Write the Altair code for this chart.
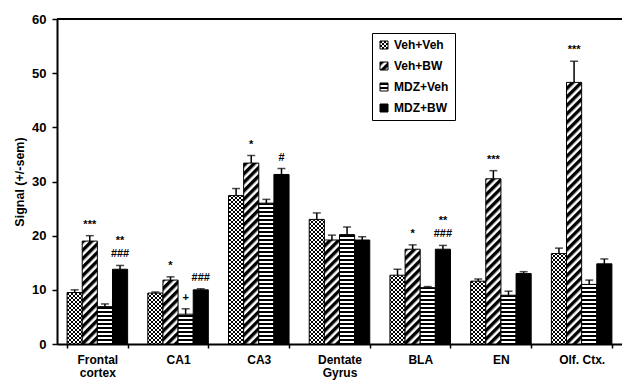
import altair as alt
import pandas as pd

# ---------------- data ----------------
regions = ["Frontal cortex", "CA1", "CA3", "Dentate Gyrus", "BLA", "EN", "Olf. Ctx."]
groups = ["Veh+Veh", "Veh+BW", "MDZ+Veh", "MDZ+BW"]

veh_veh = [9.5, 9.4, 27.4, 23.0, 12.7, 11.6, 16.7]
veh_veh_err = [0.5, 0.2, 1.3, 1.2, 1.1, 0.4, 1.0]
veh_bw = [19.0, 11.8, 33.4, 19.2, 17.5, 30.5, 48.3]
veh_bw_err = [1.0, 0.6, 1.4, 0.9, 0.8, 1.5, 3.9]
mdz_veh = [6.9, 5.5, 26.0, 20.2, 10.4, 9.0, 11.0]
mdz_veh_err = [0.5, 1.0, 0.7, 1.4, 0.2, 0.75, 0.8]
mdz_bw = [13.8, 10.0, 31.3, 19.2, 17.5, 13.0, 14.8]
mdz_bw_err = [0.7, 0.2, 1.1, 0.6, 0.7, 0.35, 0.9]

# significance marks: first line (just above the error bar) and second line (above that)
veh_veh_sig = ["", "", "", "", "", "", ""]
veh_bw_sig = ["***", "*", "*", "", "*", "***", "***"]
mdz_veh_sig = ["", "+", "", "", "", "", ""]
mdz_bw_sig = ["###", "###", "#", "", "###", "", ""]
mdz_bw_sig2 = ["**", "", "", "", "**", "", ""]

y_ticks = [0, 10, 20, 30, 40, 50, 60]

# ---------------- patterns (svg defs injected into page) ----------------
patterns = ["url(#pChk)", "url(#pDiag)", "url(#pHor)", "black"]
DEFS = """
<svg width="0" height="0" style="position:absolute;left:0;top:0">
<defs>
<pattern id="pChk" patternUnits="userSpaceOnUse" width="4" height="4">
<rect width="4" height="4" fill="white"/>
<rect x="0" y="0" width="2" height="2" fill="black"/>
<rect x="2" y="2" width="2" height="2" fill="black"/>
</pattern>
<pattern id="pDiag" patternUnits="userSpaceOnUse" width="6" height="6" patternTransform="rotate(45)">
<rect width="6" height="6" fill="white"/>
<rect width="3.4" height="6" fill="black"/>
</pattern>
<pattern id="pHor" patternUnits="userSpaceOnUse" width="4" height="4">
<rect width="4" height="4" fill="white"/>
<rect width="4" height="2" fill="black"/>
</pattern>
</defs>
</svg>
"""

try:
    import altair.utils.html as _h
    _orig = _h.TEMPLATES["standard"]

    class _PatternTemplate:
        def render(self, **kw):
            html = _orig.render(**kw)
            if "<body>" in html:
                return html.replace("<body>", "<body>\n" + DEFS, 1)
            return DEFS + html

    _h.TEMPLATES["standard"] = _PatternTemplate()
except Exception:
    pass

# ---------------- frames ----------------
rows = []
series = [(veh_veh, veh_veh_err, veh_veh_sig, None),
          (veh_bw, veh_bw_err, veh_bw_sig, None),
          (mdz_veh, mdz_veh_err, mdz_veh_sig, None),
          (mdz_bw, mdz_bw_err, mdz_bw_sig, mdz_bw_sig2)]
for g, (vals, errs, sigs, sigs2) in zip(groups, series):
    for i, r in enumerate(regions):
        rows.append({"region": r, "group": g, "value": vals[i], "top": vals[i] + errs[i],
                     "sig": sigs[i], "sig2": sigs2[i] if sigs2 else ""})
df = pd.DataFrame(rows)
df_sig = df[df["sig"] != ""]
df_sig2 = df[df["sig2"] != ""]

FONT = "Liberation Sans"
W, H = 565, 325

xscale = alt.Scale(domain=regions, paddingInner=0.25, paddingOuter=0.125)
xaxis = alt.Axis(
    title=None, labelAngle=0, tickBand="extent", tickSize=4, tickWidth=1.5,
    labelPadding=6, labelFontSize=12, labelLineHeight=13,
    labelExpr="datum.label == 'Frontal cortex' ? ['Frontal','cortex'] : "
              "datum.label == 'Dentate Gyrus' ? ['Dentate','Gyrus'] : datum.label",
)
X = alt.X("region:N", sort=regions, scale=xscale, axis=xaxis)
XO = alt.XOffset("group:N", sort=groups, scale=alt.Scale(domain=groups, paddingInner=0, paddingOuter=0))
yscale = alt.Scale(domain=[0, 60], nice=False)
yaxis = alt.Axis(values=y_ticks, title="Signal (+/-sem)", tickSize=5, tickWidth=1.5,
                 labelPadding=6, titlePadding=5, titleFontSize=12.5, labelFontSize=13)

bars = alt.Chart(df).mark_bar(stroke="black", strokeWidth=1).encode(
    x=X, xOffset=XO,
    y=alt.Y("value:Q", scale=yscale, axis=yaxis),
    color=alt.Color(
        "group:N", sort=groups,
        scale=alt.Scale(domain=groups, range=patterns),
        legend=alt.Legend(
            title=None, orient="none", legendX=315, legendY=14,
            strokeColor="black", fillColor="white", padding=6,
            symbolType="square", symbolSize=64, symbolStrokeColor="black",
            symbolStrokeWidth=1, labelFontSize=12, labelFontWeight="bold",
            labelFont=FONT, labelColor="black", rowPadding=9, labelOffset=4,
        ),
    ),
)

err = alt.Chart(df).mark_rule(color="black", strokeWidth=1.5).encode(
    x=X, xOffset=XO,
    y=alt.Y("value:Q", scale=yscale, axis=yaxis),
    y2="top:Q",
)

caps = alt.Chart(df).mark_tick(color="black", thickness=1.5, size=8).encode(
    x=X, xOffset=XO,
    y=alt.Y("top:Q", scale=yscale, axis=yaxis),
)

sig = alt.Chart(df_sig).mark_text(
    baseline="bottom", dy=-6, fontSize=11, fontWeight="bold",
    font=FONT, color="black",
).encode(
    x=X, xOffset=XO,
    y=alt.Y("top:Q", scale=yscale, axis=yaxis),
    text="sig:N",
)

sig2 = alt.Chart(df_sig2).mark_text(
    baseline="bottom", dy=-19, fontSize=11, fontWeight="bold",
    font=FONT, color="black",
).encode(
    x=X, xOffset=XO,
    y=alt.Y("top:Q", scale=yscale, axis=yaxis),
    text="sig2:N",
)

top_line = alt.Chart(df).mark_rule(color="black", strokeWidth=1.5).encode(
    y=alt.datum(60, scale=yscale),
)

chart = alt.layer(bars, err, caps, sig, sig2, top_line).properties(
    width=W, height=H,
    autosize=alt.AutoSizeParams(type="none"),
    padding={"left": 49, "top": 11, "right": 0, "bottom": 37},
).configure_view(stroke=None).configure_axis(
    domainColor="black", domainWidth=2, tickColor="black", grid=False,
    labelFont=FONT, labelFontWeight="bold", labelColor="black",
    titleFont=FONT, titleFontWeight="bold", titleColor="black",
)

chart.save("out.html", embed_options={"renderer": "svg", "actions": False})
